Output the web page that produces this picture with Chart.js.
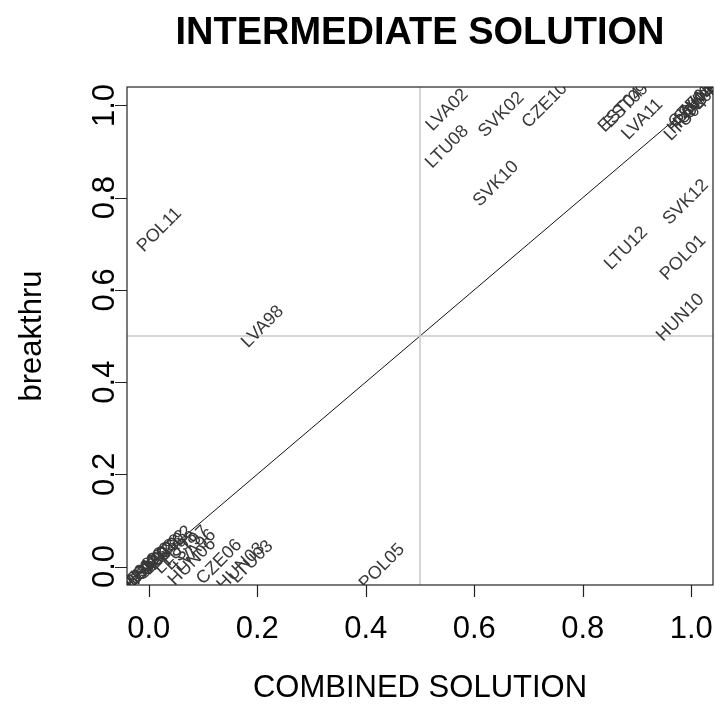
<!DOCTYPE html>
<html>
<head>
<meta charset="utf-8">
<script src="https://cdn.jsdelivr.net/npm/chart.js@4/dist/chart.umd.min.js"></script>
<style>
  html, body { margin: 0; padding: 0; background: #fff; }
  #wrap { width: 715px; height: 704px; }
</style>
</head>
<body>
<div id="wrap"><canvas id="chart" width="715" height="704"></canvas></div>
<script>
// Case labels and their coordinates (combined solution vs breakthru)
const caseLabels = [
  'POL11', 'LVA98', 'LVA02', 'LTU08', 'SVK02', 'CZE10', 'SVK10',
  'EST04', 'EST09', 'LVA11', 'LTU04', 'CZE04', 'SVK04', 'HUN04', 'POL04', 'SVN04',
  'SVK12', 'LTU12', 'POL01', 'HUN10', 'POL05',
  'CZE06', 'HUN03', 'LTU03', 'HUN06', 'LVA96', 'EST97',
  'CZE98', 'CZE02', 'HUN98', 'HUN02', 'POL98', 'SVK98', 'EST98', 'EST02', 'LTU98'
];
const combinedVals = [
  0.02, 0.21, 0.55, 0.55, 0.65, 0.73, 0.64,
  0.87, 0.88, 0.91, 0.99, 1.00, 1.01, 1.00, 1.01, 1.02,
  0.99, 0.88, 0.985, 0.98, 0.43,
  0.13, 0.17, 0.19, 0.08, 0.085, 0.07,
  -0.03, -0.02, -0.01, 0.00, 0.01, 0.02, 0.03, 0.04, 0.05
];
const breakthruVals = [
  0.73, 0.52, 0.99, 0.91, 0.98, 1.00, 0.83,
  0.99, 1.00, 0.97, 0.97, 1.00, 1.01, 0.99, 1.00, 1.02,
  0.79, 0.69, 0.67, 0.54, 0.00,
  0.01, 0.00, 0.01, 0.01, 0.035, 0.04,
  -0.03, -0.02, -0.01, 0.00, 0.01, 0.02, 0.03, 0.04, 0.03
];

// Axis ranges, ticks and reference lines
const axisMin = -0.04;
const axisMax = 1.04;
const tickVals = [0, 0.2, 0.4, 0.6, 0.8, 1.0];
const tickLabels = ['0.0', '0.2', '0.4', '0.6', '0.8', '1.0'];
const diagonal = [axisMin, axisMax];
const refLine = 0.5;

const titleText = 'INTERMEDIATE SOLUTION';
const xTitle = 'COMBINED SOLUTION';
const yTitle = 'breakthru';

const FONT = '"Liberation Sans", Arial, sans-serif';

// Draws box, axes, rotated case labels and titles in base-graphics style
const basePlot = {
  id: 'basePlot',
  afterDatasetsDraw(chart) {
    const { ctx, chartArea: a, scales: { x, y } } = chart;

    // case labels, rotated 45 degrees and clipped to the plot region
    ctx.save();
    ctx.beginPath();
    ctx.rect(a.left, a.top, a.right - a.left, a.bottom - a.top);
    ctx.clip();
    ctx.fillStyle = '#383838';
    ctx.font = '18px ' + FONT;
    ctx.textAlign = 'center';
    ctx.textBaseline = 'middle';
    caseLabels.forEach((lab, i) => {
      ctx.save();
      ctx.translate(x.getPixelForValue(combinedVals[i]), y.getPixelForValue(breakthruVals[i]));
      ctx.rotate(-Math.PI / 4);
      ctx.fillText(lab, 0, 0);
      ctx.restore();
    });
    ctx.restore();

    // box
    ctx.save();
    ctx.strokeStyle = '#222';
    ctx.lineWidth = 1.2;
    ctx.strokeRect(a.left, a.top, a.right - a.left, a.bottom - a.top);

    // ticks
    ctx.beginPath();
    tickVals.forEach(v => {
      const px = Math.round(x.getPixelForValue(v)) + 0.5;
      ctx.moveTo(px, a.bottom);
      ctx.lineTo(px, a.bottom + 12);
      const py = Math.round(y.getPixelForValue(v)) + 0.5;
      ctx.moveTo(a.left, py);
      ctx.lineTo(a.left - 12, py);
    });
    ctx.stroke();

    // tick labels
    ctx.fillStyle = '#000';
    ctx.font = '31px ' + FONT;
    ctx.textAlign = 'center';
    ctx.textBaseline = 'alphabetic';
    tickVals.forEach((v, i) => {
      ctx.fillText(tickLabels[i], x.getPixelForValue(v), 638);
      ctx.save();
      ctx.translate(114, y.getPixelForValue(v));
      ctx.rotate(-Math.PI / 2);
      ctx.fillText(tickLabels[i], 0, 0);
      ctx.restore();
    });

    // axis titles
    ctx.fillText(xTitle, (a.left + a.right) / 2, 697);
    ctx.save();
    ctx.translate(41, (a.top + a.bottom) / 2);
    ctx.rotate(-Math.PI / 2);
    ctx.fillText(yTitle, 0, 0);
    ctx.restore();

    // main title
    ctx.font = 'bold 38px ' + FONT;
    ctx.fillText(titleText, (a.left + a.right) / 2, 44);
    ctx.restore();
  }
};

const ctx = document.getElementById('chart').getContext('2d');
new Chart(ctx, {
  type: 'scatter',
  data: {
    datasets: [
      {
        // vertical reference line
        data: [{ x: refLine, y: axisMin }, { x: refLine, y: axisMax }],
        showLine: true, borderColor: '#c8c8c8', borderWidth: 1.5, pointRadius: 0
      },
      {
        // horizontal reference line
        data: [{ x: axisMin, y: refLine }, { x: axisMax, y: refLine }],
        showLine: true, borderColor: '#c8c8c8', borderWidth: 1.5, pointRadius: 0
      },
      {
        // diagonal x = y
        data: diagonal.map(v => ({ x: v, y: v })),
        showLine: true, borderColor: '#111', borderWidth: 1, pointRadius: 0
      },
      {
        // case positions (shown as labels by the plugin)
        data: caseLabels.map((_, i) => ({ x: combinedVals[i], y: breakthruVals[i] })),
        pointRadius: 0
      }
    ]
  },
  options: {
    responsive: false,
    animation: false,
    events: [],
    layout: { padding: { left: 127, right: 2, top: 87, bottom: 119 } },
    plugins: { legend: { display: false }, tooltip: { enabled: false } },
    scales: {
      x: { type: 'linear', display: false, min: axisMin, max: axisMax },
      y: { type: 'linear', display: false, min: axisMin, max: axisMax }
    }
  },
  plugins: [basePlot]
});
</script>
</body>
</html>
